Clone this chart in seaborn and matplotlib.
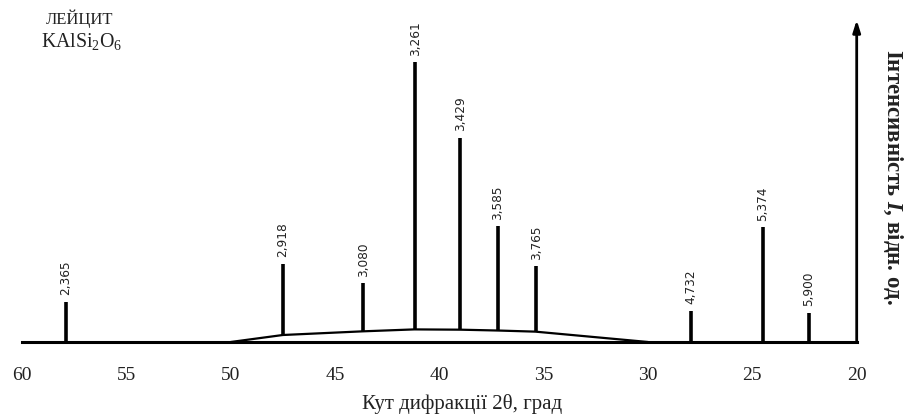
import numpy as np
import pandas as pd
import matplotlib.pyplot as plt
import seaborn as sns

# peak positions (2theta, deg), relative heights (3,261 = 100) and d-spacings
two_theta = [57.9, 47.5, 43.65, 41.15, 39.0, 37.2, 35.35, 27.95, 24.5, 22.3]
intensity = [14.4, 27.9, 21.0, 100.0, 72.9, 41.4, 27.1, 11.2, 41.0, 10.5]
d_labels = ['2,365', '2,918', '3,080', '3,261', '3,429', '3,585', '3,765',
            '4,732', '5,374', '5,900']

# amorphous halo under the peaks
halo_x = [30, 35.4, 37.2, 39.0, 41.2, 43.7, 47.5, 50]
halo_y = [0, 3.7, 4.1, 4.4, 4.5, 3.8, 2.5, 0]

x_ticks = [60, 55, 50, 45, 40, 35, 30, 25, 20]

sns.set_style('white')
plt.rcParams['font.family'] = ['Liberation Serif', 'DejaVu Serif']
plt.rcParams['mathtext.fontset'] = 'custom'
plt.rcParams['mathtext.rm'] = 'Liberation Serif'
plt.rcParams['mathtext.it'] = 'Liberation Serif:italic:bold'

fig, ax = plt.subplots(figsize=(9.09, 4.16), dpi=100)
fig.subplots_adjust(left=22 / 909, right=856.7 / 909, bottom=74 / 416, top=396 / 416)

halo = pd.DataFrame({'x': halo_x, 'y': halo_y})
sns.lineplot(data=halo, x='x', y='y', color='black', lw=1.6, sort=False, ax=ax)

# peaks stand on the halo
base = np.interp(two_theta, halo_x, halo_y, left=0, right=0)
ax.vlines(two_theta, base, intensity, color='black', lw=2.6)
for x, y, s in zip(two_theta, intensity, d_labels):
    ax.text(x, y + 2.3, s, rotation=90, ha='center', va='bottom',
            fontsize=8.7, family='DejaVu Sans', color='#222222')

ax.set_xlim(60, 20)
ax.set_ylim(0, 115)
ax.set_xticks(x_ticks)
ax.set_yticks([])
ax.set_xlabel('')
ax.set_ylabel('')
for side in ['left', 'top', 'right']:
    ax.spines[side].set_visible(False)
ax.spines['bottom'].set_linewidth(2.2)
ax.spines['bottom'].set_color('black')
ax.tick_params(axis='x', direction='out', length=5, width=2, pad=13,
               labelsize=14, colors='black', labelcolor='#222222')

# intensity axis with arrow
ax.annotate('', xy=(1, 1), xytext=(1, 0), xycoords='axes fraction',
            arrowprops=dict(arrowstyle='-|>,head_length=0.7,head_width=0.22',
                            lw=2, color='black', shrinkA=0, shrinkB=0))

fig.text(462 / 909, 1 - 404 / 416, 'Кут дифракції 2θ, град',
         ha='center', va='center', fontsize=15, color='#222222')
fig.text(893 / 909, 1 - 177 / 416, 'Інтенсивність $I$, відн. од.',
         rotation=270, ha='center', va='center', fontsize=16.5,
         fontweight='bold', color='#222222')
fig.text(80 / 909, 1 - 19 / 416, 'ЛЕЙЦИТ', ha='center', va='center',
         fontsize=12, color='#222222')
fig.text(82 / 909, 1 - 42 / 416, 'KAlSi$_2$O$_6$', ha='center', va='center',
         fontsize=14.3, color='#222222')

fig.savefig('out.png', dpi=100)
plt.close(fig)
